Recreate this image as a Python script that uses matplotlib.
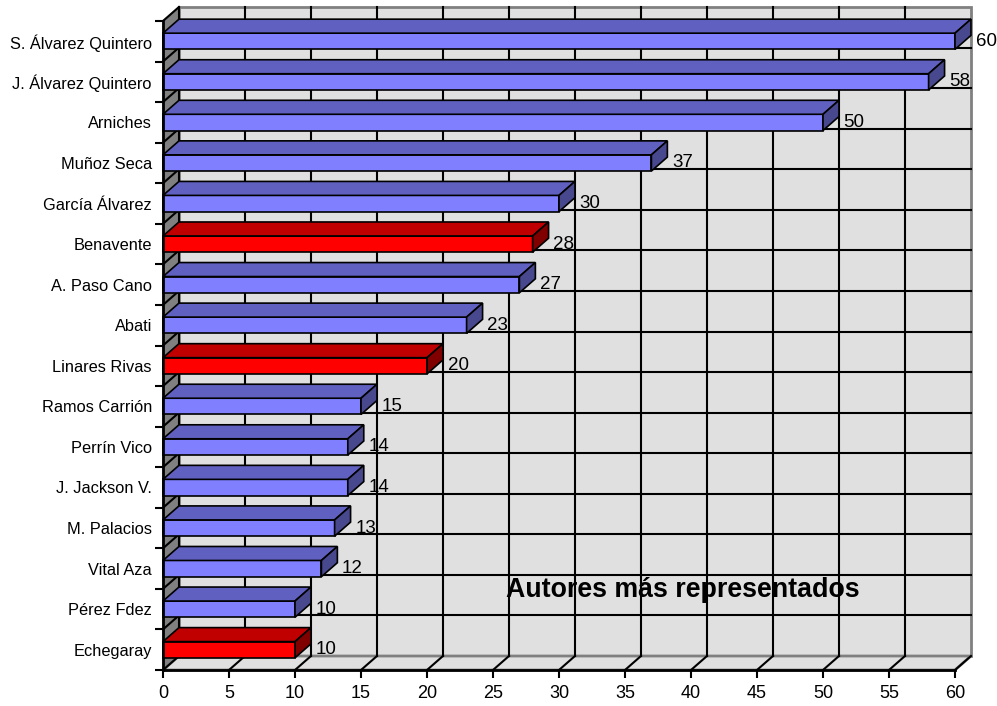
# Gráfico de barras 3D (estilo Excel) - autores más representados
import matplotlib.pyplot as plt
from matplotlib.patches import Polygon, Rectangle

plt.rcParams['font.family'] = ['Liberation Sans', 'DejaVu Sans']

# Datos
autores = ['S. Álvarez Quintero', 'J. Álvarez Quintero', 'Arniches', 'Muñoz Seca',
           'García Álvarez', 'Benavente', 'A. Paso Cano', 'Abati', 'Linares Rivas',
           'Ramos Carrión', 'Perrín Vico', 'J. Jackson V.', 'M. Palacios',
           'Vital Aza', 'Pérez Fdez', 'Echegaray']
obras = [60, 58, 50, 37, 30, 28, 27, 23, 20, 15, 14, 14, 13, 12, 10, 10]
destacados = ['Benavente', 'Linares Rivas', 'Echegaray']
xticks = list(range(0, 61, 5))

# Colores (frente, arriba, lateral)
azul = ('#8080ff', '#6060c0', '#48488f')
rojo = ('#ff0000', '#c00000', '#800000')

fig = plt.figure(figsize=(9.97, 7.06), dpi=100)
ax = fig.add_axes([163 / 997, 36 / 706, 792 / 997, 649 / 706])
n = len(autores)
xmax = xticks[-1]
ax.set_xlim(0, xmax)
ax.set_ylim(0, n)
ax.patch.set_visible(False)

# desplazamiento de profundidad (en unidades de datos)
dx, dy = 1.21, 0.345

# paredes
ax.add_patch(Polygon([(dx, dy), (xmax + dx, dy), (xmax + dx, n + dy), (dx, n + dy)],
                     fc='#e0e0e0', ec='#808080', lw=2, zorder=1, clip_on=False))
ax.add_patch(Polygon([(0, 0), (xmax, 0), (xmax + dx, dy), (dx, dy)],
                     fc='#e0e0e0', ec='#808080', lw=2, zorder=1, clip_on=False))
ax.add_patch(Polygon([(0, 0), (dx, dy), (dx, n + dy), (0, n)],
                     fc='#808080', ec='#808080', lw=1, zorder=1.2, clip_on=False))

# líneas de la cuadrícula
for x in xticks[:-1]:
    ax.plot([x + dx, x + dx], [dy, n + dy], color='black', lw=1.5, zorder=2, clip_on=False)
for x in xticks[1:]:
    ax.plot([x, x + dx], [0, dy], color='black', lw=1.5, zorder=2, clip_on=False)
for k in range(1, n):
    ax.plot([dx, xmax + dx], [k + dy, k + dy], color='black', lw=1.5, zorder=2, clip_on=False)
for k in range(0, n + 1):
    ax.plot([0, dx], [k, k + dy], color='black', lw=1.5, zorder=2, clip_on=False)

# título (debajo de la cuadrícula)
ax.text(682.5 / 997, 1 - 590 / 706, 'Autores más representados', transform=fig.transFigure,
        ha='center', va='center', fontsize=19.3, fontweight='bold', zorder=1.5)

# barras
for i, (nombre, v) in enumerate(zip(autores, obras)):
    pos = n - 1 - i
    c = rojo if nombre in destacados else azul
    y0, y1 = pos + 0.3, pos + 0.7
    ax.add_patch(Rectangle((0, y0), v, y1 - y0, fc=c[0], ec='black', lw=1.2, zorder=3,
                           clip_on=False))
    ax.add_patch(Polygon([(0, y1), (v, y1), (v + dx, y1 + dy), (dx, y1 + dy)],
                         fc=c[1], ec='black', lw=1.2, zorder=3, clip_on=False))
    ax.add_patch(Polygon([(v, y0), (v, y1), (v + dx, y1 + dy), (v + dx, y0 + dy)],
                         fc=c[2], ec='black', lw=1.2, zorder=3, clip_on=False))
    ax.text(v + dx + 0.35, pos + 0.5, str(v), ha='left', va='center', fontsize=13.5, zorder=5)

# ejes
for s in ['top', 'right']:
    ax.spines[s].set_visible(False)
for s in ['left', 'bottom']:
    ax.spines[s].set_linewidth(2)
    ax.spines[s].set_zorder(6)

ax.set_yticks(range(n + 1))
ax.set_yticklabels([])
ax.set_yticks([n - 1 - i + 0.5 for i in range(n)], minor=True)
ax.set_yticklabels(autores, minor=True)
ax.tick_params(axis='y', which='major', length=6, width=1.5)
ax.tick_params(axis='y', which='minor', length=0, pad=8, labelsize=11.8)

ax.set_xticks(xticks)
ax.tick_params(axis='x', length=6, width=1.5, pad=5, labelsize=13)

fig.savefig('out.png', dpi=100)
